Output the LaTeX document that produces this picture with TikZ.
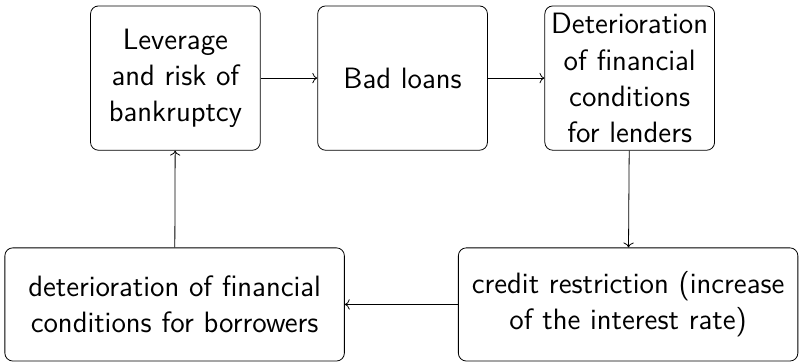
\documentclass[tikz,border=0pt]{standalone}
\usepackage{tikz}
\usetikzlibrary{arrows.meta,positioning}
\tikzset{
  stagebox/.style={draw, rounded corners=4pt, align=center,
    font=\sffamily\fontsize{14.8}{18.2}\selectfont,
    text width=2.88cm, minimum width=3cm, minimum height=2.55cm, inner sep=1pt},
  widebox/.style={stagebox, text width=5.7cm, minimum width=6cm, minimum height=2cm},
  arr/.style={->}
}
\begin{document}
\begin{tikzpicture}[node distance=1cm]
  \useasboundingbox (-3.1,-5.02) rectangle (11.02,1.38);
  \node[stagebox] (lev) at (0,0) {Leverage\\and risk of\\bankruptcy};
  \node[stagebox, right=of lev] (bad) {Bad loans};
  \node[stagebox, right=of bad] (lend) {Deterioration\\of financial\\conditions\\for lenders};
  \node[widebox] (credit) at (8,-4) {credit restriction (increase\\of the interest rate)};
  \node[widebox, left=2cm of credit] (borrow) {deterioration of financial\\conditions for borrowers};
  \draw[arr] (lev) -- (bad);
  \draw[arr] (bad) -- (lend);
  \draw[arr] (lend) -- (credit);
  \draw[arr] (credit) -- (borrow);
  \draw[arr] (borrow) -- (lev);
\end{tikzpicture}
\end{document}
